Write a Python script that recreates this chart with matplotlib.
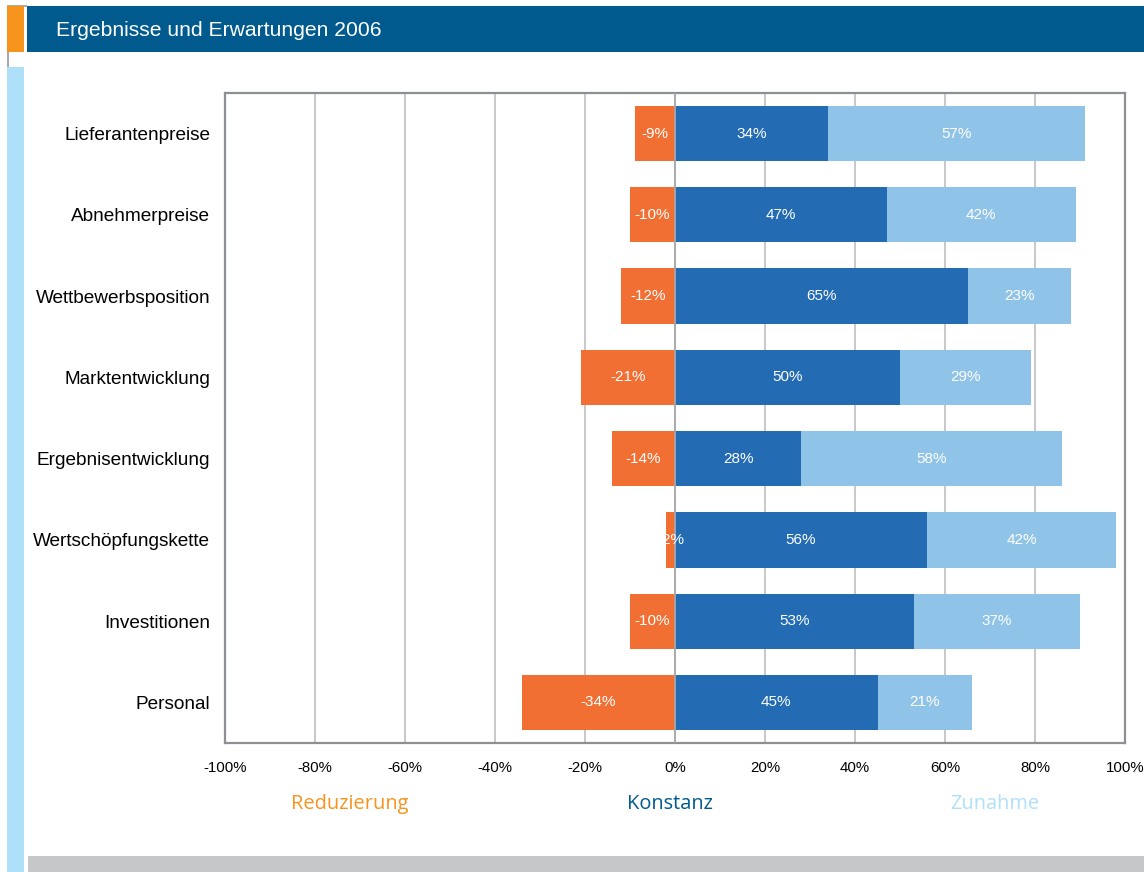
import matplotlib
matplotlib.use("Agg")
import matplotlib.pyplot as plt
from matplotlib.patches import Rectangle

categories = ["Lieferantenpreise", "Abnehmerpreise", "Wettbewerbsposition",
              "Marktentwicklung", "Ergebnisentwicklung", "Wertschöpfungskette",
              "Investitionen", "Personal"]
reduzierung = [-9, -10, -12, -21, -14, -2, -10, -34]
konstanz = [34, 47, 65, 50, 28, 56, 53, 45]
zunahme = [57, 42, 23, 29, 58, 42, 37, 21]
xticks = [-100, -80, -60, -40, -20, 0, 20, 40, 60, 80, 100]
title = "Ergebnisse und Erwartungen 2006"
legend_labels = ["Reduzierung", "Konstanz", "Zunahme"]

C_RED = "#F26F33"
C_KON = "#236BB3"
C_ZUN = "#90C3E8"
C_HEAD = "#005A8E"
C_ORANGE = "#F7941D"
C_LIGHT = "#AEE0FA"
C_GREY = "#C6C7C9"

W, H = 1144, 872
fig = plt.figure(figsize=(W / 100, H / 100), dpi=100)
fig.patch.set_facecolor("white")

def px_rect(x0, y0, x1, y1, color, z=0):
    fig.patches.append(Rectangle((x0 / W, 1 - y1 / H), (x1 - x0) / W, (y1 - y0) / H,
                                 transform=fig.transFigure, facecolor=color,
                                 edgecolor="none", zorder=z))

# page decoration
px_rect(7, 5, 27, 7, "#A8ABAE")
px_rect(7, 5, 9, 68, "#A8ABAE")
px_rect(7, 6, 24, 52, C_ORANGE, 1)
px_rect(27, 6, W, 52, C_HEAD, 1)
px_rect(7, 67, 24, H, C_LIGHT, 1)
px_rect(28, 856, W, H, C_GREY, 1)
fig.text(56 / W, 1 - 30 / H, title, color="white", fontsize=15.2,
         family="Liberation Sans", va="center", ha="left")

ax = fig.add_axes([225 / W, 1 - 743 / H, 900 / W, 650 / H])
y = list(range(len(categories)))
h = 0.68
ax.barh(y, reduzierung, height=h, color=C_RED, zorder=2)
ax.barh(y, konstanz, height=h, color=C_KON, zorder=2)
ax.barh(y, zunahme, left=konstanz, height=h, color=C_ZUN, zorder=2)

for i in y:
    r, k, z = reduzierung[i], konstanz[i], zunahme[i]
    for xc, v in ((r / 2, r), (k / 2, k), (k + z / 2, z)):
        ax.text(xc, i, f"{v}%", color="white", ha="center", va="center",
                fontsize=11, family="Liberation Sans", zorder=4)

ax.set_xlim(-100, 100)
ax.set_ylim(len(categories) - 0.5, -0.5)
ax.set_xticks(xticks)
ax.set_xticklabels([f"{t}%" for t in xticks], fontsize=10.8, family="Liberation Sans")
ax.set_yticks(y)
ax.set_yticklabels(categories, fontsize=13.7, family="Liberation Sans")
ax.tick_params(axis="both", length=0)
ax.tick_params(axis="y", pad=10.5)
ax.tick_params(axis="x", pad=13)
for t in xticks[1:-1]:
    ax.axvline(t, color="#C4C4C4", lw=1.3, zorder=1)
ax.axvline(0, color="#A8A8A8", lw=1.3, zorder=3)
for s in ax.spines.values():
    s.set_color("#8C9094")
    s.set_linewidth(1.6)

leg_x = [350, 670, 995]
leg_c = [C_ORANGE, C_HEAD, C_LIGHT]
for lx, lab, c in zip(leg_x, legend_labels, leg_c):
    fig.text(lx / W, 1 - 804 / H, lab, color=c, fontsize=14.4, family="Open Sans",
             ha="center", va="center")

fig.savefig("out.png", dpi=100, facecolor="white")
